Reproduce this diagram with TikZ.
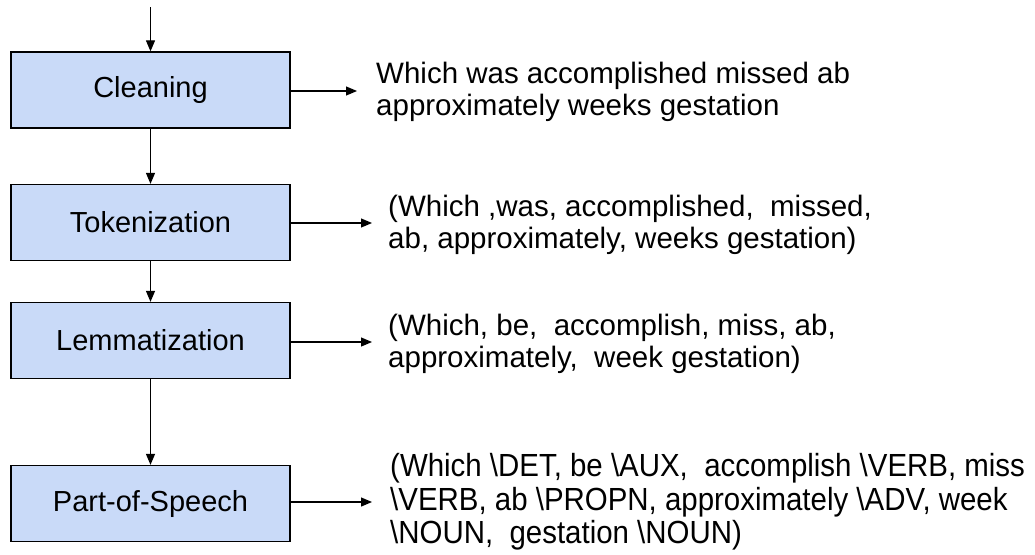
\documentclass[tikz,border=0pt]{standalone}
\usepackage{fontspec}
\setmainfont{Liberation Sans}
\newfontfamily\narrowfont[FakeStretch=0.92]{Liberation Sans}
\usetikzlibrary{arrows.meta}
\definecolor{boxblue}{HTML}{C9DAF8}
\begin{document}
\begin{tikzpicture}[x=1pt,y=-1pt,
  stage/.style={draw=black,line width=1.3pt,fill=boxblue,minimum width=279pt,
    minimum height=76pt,inner sep=0pt,font=\fontsize{29}{32}\selectfont},
  result/.style={anchor=west,align=left,inner sep=0pt,font=\fontsize{29.5}{32}\selectfont},
  flow/.style={line width=1.2pt,-{Triangle[length=11pt,width=9pt]}}]
  \useasboundingbox (0,0) rectangle (1035,554);

  % pipeline stages
  \node[stage] (clean) at (150.5,90) {Cleaning};
  \node[stage] (token) at (150.5,222.5) {Tokenization};
  \node[stage] (lemma) at (150.5,340.5) {Lemmatization};
  \node[stage] (pos)   at (150.5,503.5) {Part-of-Speech};

  % outputs of each stage
  \node[result] (tclean) at (376,92) {Which was accomplished missed ab\\approximately weeks gestation};
  \node[result] (ttoken) at (388,225) {(Which ,was, accomplished,\ \ missed,\\ab, approximately, weeks gestation)};
  \node[result] (tlemma) at (388,344) {(Which, be,\ \ accomplish, miss, ab,\\approximately,\ \ week gestation)};
  \node[result,font=\narrowfont\fontsize{32}{33.5}\selectfont] (tpos) at (390,502)
    {(Which \textbackslash DET, be \textbackslash AUX,\ \ accomplish \textbackslash VERB, miss\\\textbackslash VERB, ab \textbackslash PROPN, approximately \textbackslash ADV, week\\\textbackslash NOUN,\ \ gestation \textbackslash NOUN)};

  % arrow tips of the side connectors
  \coordinate (start) at (150.5,7);
  \coordinate (eclean) at (357,91);
  \coordinate (etoken) at (372,223);
  \coordinate (elemma) at (372,342);
  \coordinate (epos)   at (372,502);

  % vertical flow
  \draw[flow] (start) -- (clean.north);
  \draw[flow] (clean) -- (token);
  \draw[flow] (token) -- (lemma);
  \draw[flow] (lemma) -- (pos);

  % side connectors
  \draw[flow] (clean.east |- eclean) -- (eclean);
  \draw[flow] (token.east |- etoken) -- (etoken);
  \draw[flow] (lemma.east |- elemma) -- (elemma);
  \draw[flow] (pos.east |- epos) -- (epos);
\end{tikzpicture}
\end{document}
